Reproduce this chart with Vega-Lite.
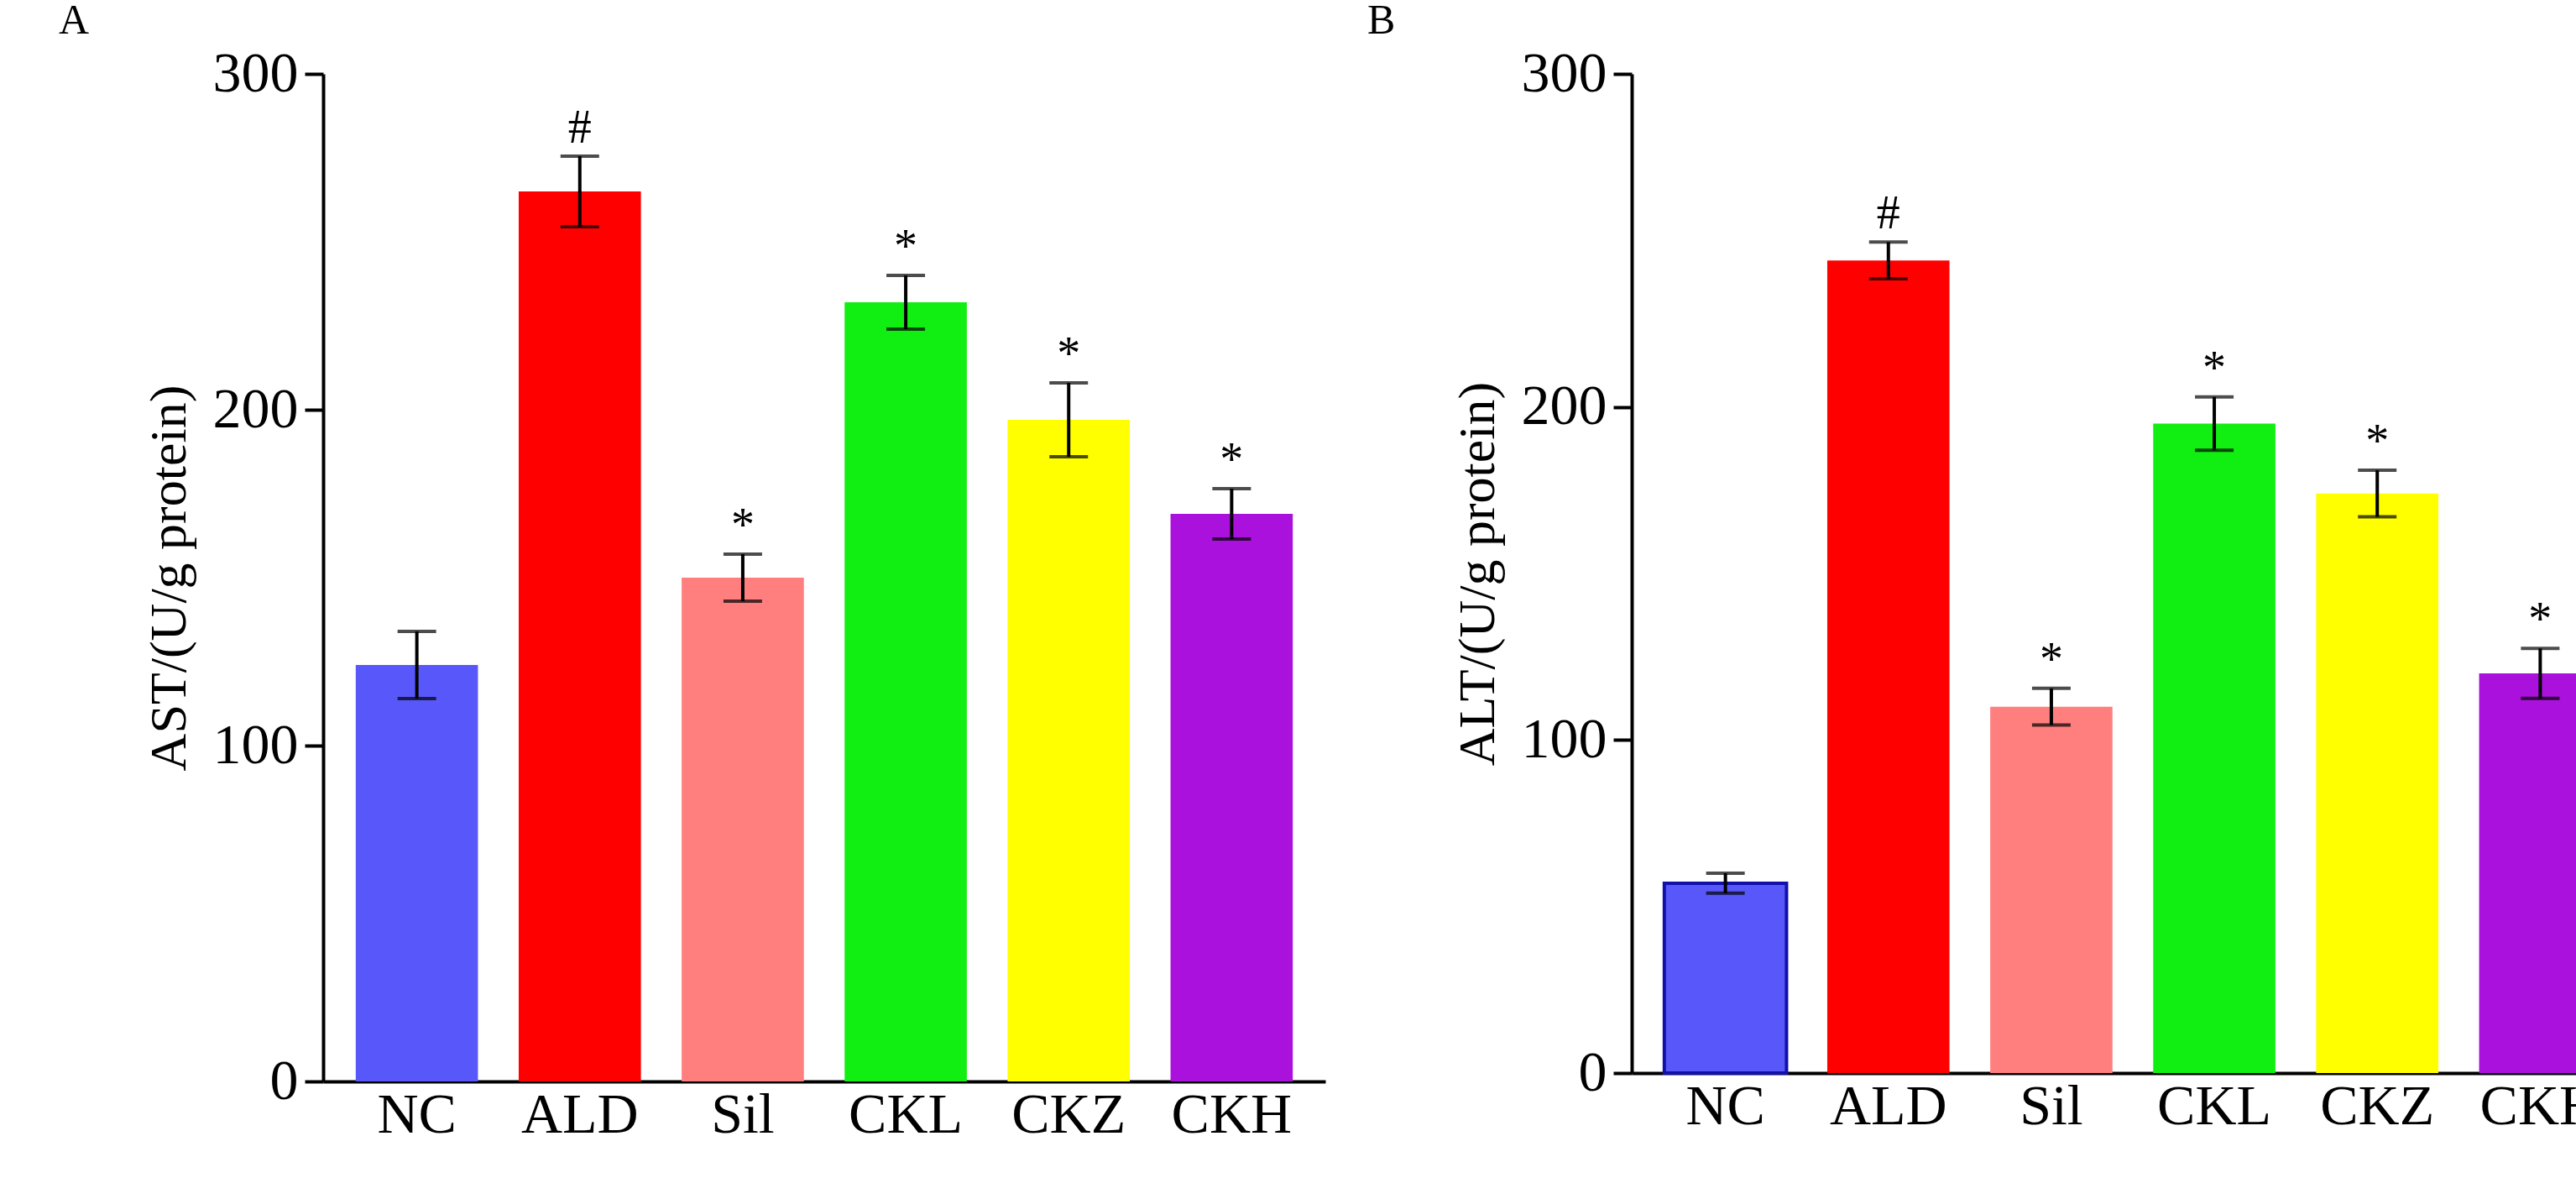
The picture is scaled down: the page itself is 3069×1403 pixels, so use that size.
{
"$schema":"https://vega.github.io/schema/vega-lite/v6.json",
"background":"white",
"padding":{"left":70,"top":0,"right":10,"bottom":5},
"spacing":50,
"config":{"view":{"stroke":null},"font":"Liberation Serif",
"axis":{"labelFont":"Liberation Serif","titleFont":"Liberation Serif","labelFontSize":68,"titleFontSize":62,"titleFontWeight":"normal","labelColor":"black","titleColor":"black","domainColor":"black","tickColor":"black","domainWidth":4,"tickWidth":4,"grid":false},
"title":{"font":"Liberation Serif","fontSize":50,"fontWeight":"normal","anchor":"start","frame":"bounds","color":"black","offset":0}},
"datasets":{
"a":[{"g":"NC","v":124,"e":10,"s":""},{"g":"ALD","v":265,"e":10.5,"s":"#"},{"g":"Sil","v":150,"e":7,"s":"*"},{"g":"CKL","v":232,"e":8,"s":"*"},{"g":"CKZ","v":197,"e":11,"s":"*"},{"g":"CKH","v":169,"e":7.5,"s":"*"}],
"b":[{"g":"NC","v":57,"e":3,"s":""},{"g":"ALD","v":244,"e":5.5,"s":"#"},{"g":"Sil","v":110,"e":5.5,"s":"*"},{"g":"CKL","v":195,"e":8,"s":"*"},{"g":"CKZ","v":174,"e":7,"s":"*"},{"g":"CKH","v":120,"e":7.5,"s":"*"}]},
"hconcat":[
{"title":{"text":"A","dx":-100},"width":1194,"height":1200,"data":{"name":"a"},
"transform":[{"calculate":"datum.v-datum.e","as":"lo"},{"calculate":"datum.v+datum.e","as":"hi"}],
"encoding":{"x":{"field":"g","type":"nominal","sort":null,"title":null,"scale":{"paddingInner":0.25,"paddingOuter":0.2},"axis":{"ticks":false,"labelAngle":0,"labelPadding":6}}},
"layer":[
{"mark":{"type":"bar"},"encoding":{"y":{"field":"v","type":"quantitative","scale":{"domain":[0,300]},"title":"AST/(U/g protein)","axis":{"values":[0,100,200,300],"tickSize":22,"labelPadding":8,"titlePadding":20}},"color":{"field":"g","type":"nominal","sort":null,"legend":null,"scale":{"domain":["NC","ALD","Sil","CKL","CKZ","CKH"],"range":["#5858fa","#ff0000","#ff7f7f","#11ee11","#ffff00","#aa11dd"]}}}},
{"mark":{"type":"rule","strokeWidth":4,"color":"black"},"encoding":{"y":{"field":"lo","type":"quantitative"},"y2":{"field":"hi"}}},
{"mark":{"type":"tick","thickness":4,"size":46,"color":"black"},"encoding":{"y":{"field":"lo","type":"quantitative"}}},
{"mark":{"type":"tick","thickness":4,"size":46,"color":"black"},"encoding":{"y":{"field":"hi","type":"quantitative"}}},
{"mark":{"type":"text","fontSize":56,"baseline":"bottom","dy":-4,"color":"black"},"encoding":{"y":{"field":"hi","type":"quantitative"},"text":{"field":"s"}}}
]},
{"title":{"text":"B","dx":-100},"width":1194,"height":1190,"data":{"name":"b"},
"transform":[{"calculate":"datum.v-datum.e","as":"lo"},{"calculate":"datum.v+datum.e","as":"hi"}],
"encoding":{"x":{"field":"g","type":"nominal","sort":null,"title":null,"scale":{"paddingInner":0.25,"paddingOuter":0.2},"axis":{"ticks":false,"labelAngle":0,"labelPadding":6}}},
"layer":[
{"mark":{"type":"bar"},"encoding":{"y":{"field":"v","type":"quantitative","scale":{"domain":[0,300]},"title":"ALT/(U/g protein)","axis":{"values":[0,100,200,300],"tickSize":22,"labelPadding":8,"titlePadding":20}},"color":{"field":"g","type":"nominal","sort":null,"legend":null,"scale":{"domain":["NC","ALD","Sil","CKL","CKZ","CKH"],"range":["#5858fa","#ff0000","#ff7f7f","#11ee11","#ffff00","#aa11dd"]}},"stroke":{"condition":{"test":"datum.g==='NC'","value":"#1111aa"},"value":null},"strokeWidth":{"value":4}}},
{"mark":{"type":"rule","strokeWidth":4,"color":"black"},"encoding":{"y":{"field":"lo","type":"quantitative"},"y2":{"field":"hi"}}},
{"mark":{"type":"tick","thickness":4,"size":46,"color":"black"},"encoding":{"y":{"field":"lo","type":"quantitative"}}},
{"mark":{"type":"tick","thickness":4,"size":46,"color":"black"},"encoding":{"y":{"field":"hi","type":"quantitative"}}},
{"mark":{"type":"text","fontSize":56,"baseline":"bottom","dy":-4,"color":"black"},"encoding":{"y":{"field":"hi","type":"quantitative"},"text":{"field":"s"}}}
]}
]}
